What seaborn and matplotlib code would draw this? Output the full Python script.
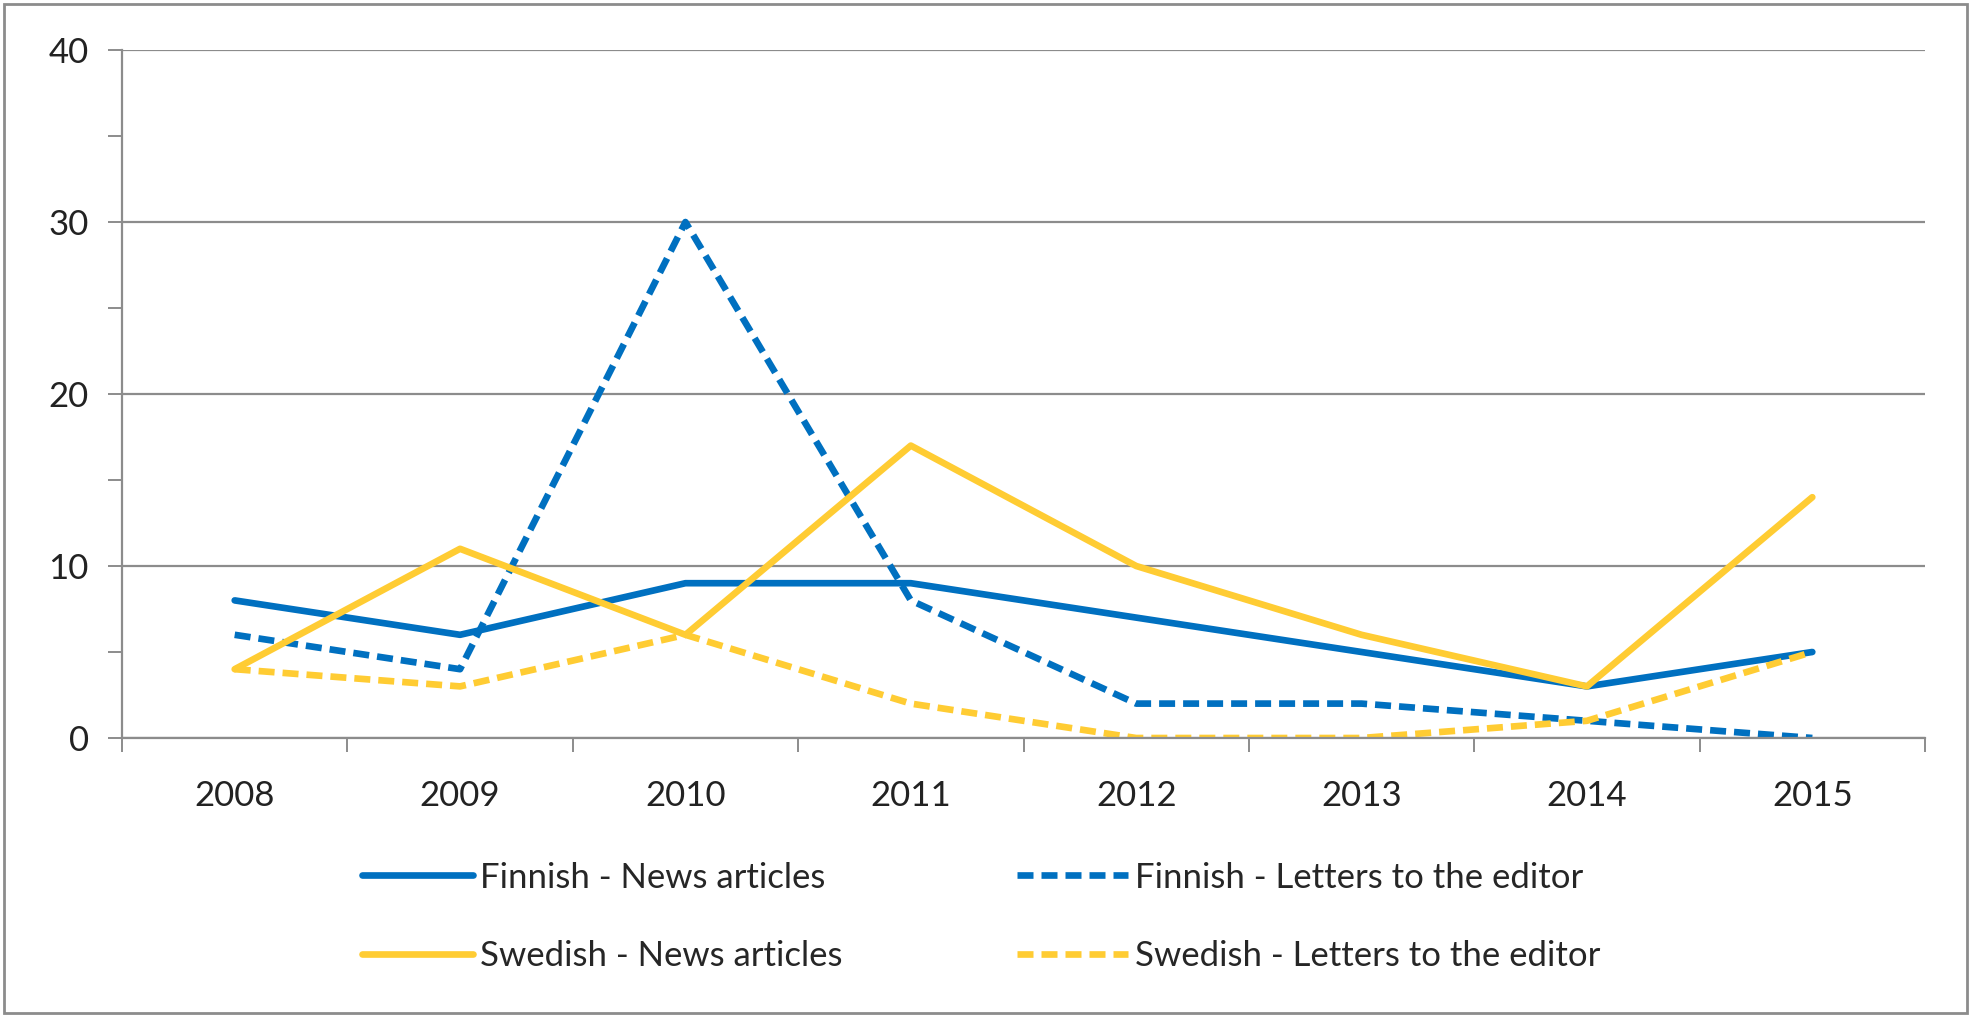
import matplotlib
matplotlib.use("Agg")
import matplotlib.pyplot as plt
import seaborn as sns
import pandas as pd
from matplotlib.patches import Rectangle
from matplotlib.ticker import FixedLocator, MultipleLocator

years = ["2008", "2009", "2010", "2011", "2012", "2013", "2014", "2015"]
finnish_news = [8, 6, 9, 9, 7, 5, 3, 5]
finnish_letters = [6, 4, 30, 8, 2, 2, 1, 0]
swedish_news = [4, 11, 6, 17, 10, 6, 3, 14]
swedish_letters = [4, 3, 6, 2, 0, 0, 1, 5]

series = [
    ("Finnish - News articles", finnish_news, "#0070C0", "-"),
    ("Finnish - Letters to the editor", finnish_letters, "#0070C0", (0, (2.4, 1.2))),
    ("Swedish - News articles", swedish_news, "#FFCC33", "-"),
    ("Swedish - Letters to the editor", swedish_letters, "#FFCC33", (0, (2.4, 1.2))),
]

sns.set_theme(style="white")
plt.rcParams["font.family"] = ["Lato", "DejaVu Sans"]

fig = plt.figure(figsize=(19.71, 10.17), dpi=100)
ax = fig.add_axes([122 / 1971, 1 - 738 / 1017, (1925 - 122) / 1971, (738 - 50) / 1017])

xs = list(range(len(years)))
handles = {}
for name, vals, color, ls in series:
    df = pd.DataFrame({"x": xs, "y": vals})
    sns.lineplot(data=df, x="x", y="y", ax=ax, color=color, linewidth=4.8,
                 linestyle=ls, label=name, legend=False)
    handles[name] = ax.lines[-1]

ax.set_xlim(-0.5, len(years) - 0.5)
ax.set_ylim(0, 40)
ax.set_xlabel("")
ax.set_ylabel("")

# y ticks
ax.yaxis.set_major_locator(MultipleLocator(10))
ax.yaxis.set_minor_locator(MultipleLocator(5))
ax.yaxis.grid(True, which="major", color="#8c8c8c", linewidth=1.6)
ax.tick_params(axis="y", which="both", left=True, direction="out", color="#8c8c8c",
               width=1.4, labelsize=25, pad=14, labelcolor="#222222")
ax.tick_params(axis="y", which="major", length=10)
ax.tick_params(axis="y", which="minor", length=10)

# x ticks: labels centered on categories, tick marks between categories
ax.xaxis.set_major_locator(FixedLocator([i - 0.5 for i in range(len(years) + 1)]))
ax.xaxis.set_minor_locator(FixedLocator(xs))
ax.set_xticklabels([""] * (len(years) + 1))
ax.set_xticklabels(years, minor=True)
ax.tick_params(axis="x", which="major", bottom=True, direction="out", length=10,
               width=1.4, color="#8c8c8c")
ax.tick_params(axis="x", which="minor", bottom=True, length=0, labelsize=25, pad=30,
               labelcolor="#222222")

for s in ["top", "right"]:
    ax.spines[s].set_visible(False)
for s in ["left", "bottom"]:
    ax.spines[s].set_color("#8c8c8c")
    ax.spines[s].set_linewidth(1.6)

order = ["Finnish - News articles", "Swedish - News articles",
         "Finnish - Letters to the editor", "Swedish - Letters to the editor"]
fig.legend([handles[n] for n in order], order, ncol=2, loc="center left",
           bbox_to_anchor=(0.168, 1 - 917 / 1017), frameon=False, fontsize=25,
           handlelength=3.2, handletextpad=0.2, columnspacing=5.0, labelspacing=1.35)

fig.patches.append(Rectangle((0.002, 0.004), 0.996, 0.992, transform=fig.transFigure,
                             fill=False, edgecolor="#8c8c8c", linewidth=2))

fig.savefig("out.png", dpi=100)
